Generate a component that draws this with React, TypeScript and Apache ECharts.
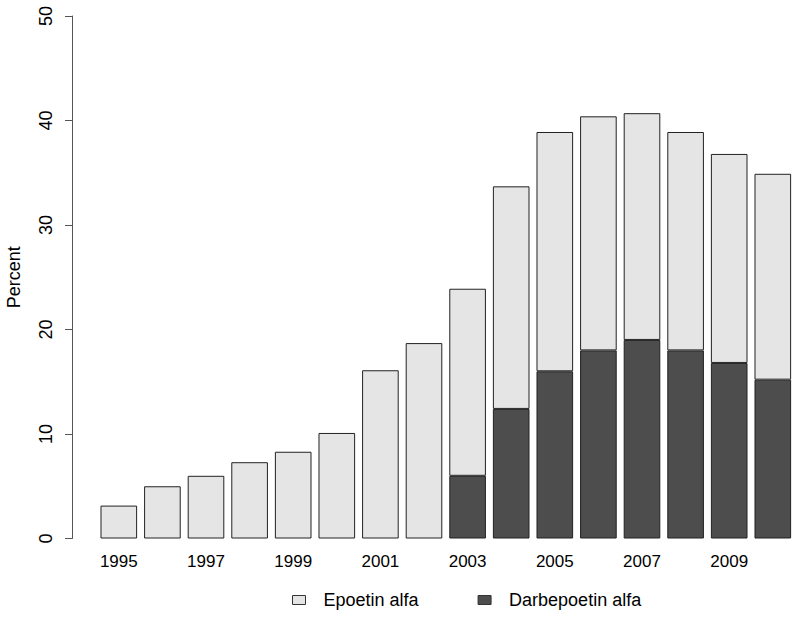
import React, { useEffect, useRef } from "react";
import * as echarts from "echarts";

const years = ["1995","1996","1997","1998","1999","2000","2001","2002","2003","2004","2005","2006","2007","2008","2009","2010"];
const darbepoetin: (number | string)[] = ["-","-","-","-","-","-","-","-",6.0,12.4,16.0,18.0,19.0,18.0,16.8,15.2];
const epoetin: number[] = [3.15,5.0,6.0,7.3,8.3,10.1,16.1,18.7,17.9,21.3,22.9,22.4,21.7,20.9,20.0,19.7];
const yTicks = { min: 0, max: 50, interval: 10 };

const FONT = "Liberation Sans, Arial, Helvetica, sans-serif";

export default function App() {
  const ref = useRef<HTMLDivElement>(null);
  useEffect(() => {
    if (!ref.current) return;
    const chart = echarts.init(ref.current, undefined, { renderer: "svg" });
    chart.setOption({
      animation: false,
      backgroundColor: "#ffffff",
      textStyle: { fontFamily: FONT },
      grid: { left: 97, top: 16, width: 697.6, height: 522.5, containLabel: false, outerBoundsMode: "none" },
      legend: {
        data: ["Epoetin alfa", "Darbepoetin alfa"],
        left: 292,
        top: 591,
        padding: 0,
        itemWidth: 13,
        itemHeight: 9,
        itemGap: 59,
        icon: "rect",
        itemStyle: { borderColor: "#333", borderWidth: 1 },
        formatter: (n: string) => "{a|" + n + "}",
        textStyle: {
          fontSize: 18,
          color: "#000",
          fontFamily: FONT,
          rich: { a: { fontSize: 18, color: "#000", fontFamily: FONT, padding: [0, 0, 0, 13] } },
        },
      },
      xAxis: {
        type: "category",
        data: years,
        axisLine: { show: false },
        axisTick: { show: false },
        axisLabel: { interval: 1, fontSize: 17, color: "#000", margin: 14, fontFamily: FONT },
      },
      yAxis: {
        type: "value",
        min: yTicks.min,
        max: yTicks.max,
        interval: yTicks.interval,
        offset: 25,
        name: "Percent",
        nameLocation: "middle",
        nameRotate: 90,
        nameGap: 49.5,
        nameTextStyle: { fontSize: 18, color: "#000", fontFamily: FONT },
        splitLine: { show: false },
        axisLine: { show: true, lineStyle: { color: "#555", width: 1 } },
        axisTick: { show: true, length: 7, lineStyle: { color: "#555", width: 1 } },
        axisLabel: { rotate: 90, fontSize: 18, color: "#000", margin: 17, fontFamily: FONT },
      },
      series: [
        {
          name: "Darbepoetin alfa",
          type: "bar",
          stack: "total",
          data: darbepoetin,
          barCategoryGap: "16%",
          itemStyle: { color: "#4d4d4d", borderColor: "#222", borderWidth: 1 },
        },
        {
          name: "Epoetin alfa",
          type: "bar",
          stack: "total",
          data: epoetin,
          barCategoryGap: "16%",
          itemStyle: { color: "#e5e5e5", borderColor: "#222", borderWidth: 1 },
        },
      ],
    });
    return () => chart.dispose();
  }, []);
  return <div ref={ref} style={{ position: "fixed", left: 0, top: 0, width: 800, height: 617 }} />;
}
